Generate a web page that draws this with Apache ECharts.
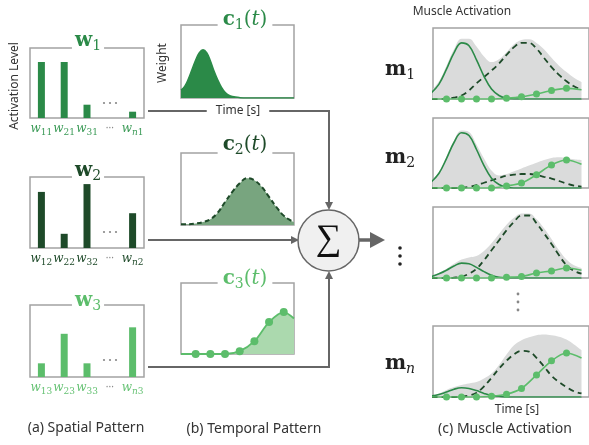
<!DOCTYPE html>
<html><head><meta charset="utf-8">
<script src="https://cdn.jsdelivr.net/npm/echarts@6/dist/echarts.min.js"></script>
<style>html,body{margin:0;padding:0;background:#fff}#c{width:589px;height:445px}</style>
</head><body><div id="c"></div>
<script>
// ---------- data ----------
// spatial patterns (bar heights, fraction of box)
const tickSub1 = ['11', '21', '31', '', 'n1'];
const tickSub2 = ['12', '22', '32', '', 'n2'];
const tickSub3 = ['13', '23', '33', '', 'n3'];
const w1 = [0.80, 0.80, 0.19, null, 0.09];
const w2 = [0.79, 0.20, 0.90, null, 0.49];
const w3 = [0.19, 0.60, 0.19, null, 0.69];

// temporal patterns
const c1X = [0, 0.25, 0.5, 0.75, 1, 1.25, 1.5, 1.75, 2, 2.25, 2.5, 2.75, 3, 3.25, 3.5, 4, 4.5, 5.5, 6.5, 7.7];
const c1Y = [0.11, 0.16, 0.26, 0.39, 0.52, 0.62, 0.66, 0.62, 0.51, 0.37, 0.25, 0.15, 0.08, 0.04, 0.02, 0.005, 0, 0, 0, 0];
const c2X = [0, 0.5, 1, 1.5, 2, 2.5, 3, 3.5, 4, 4.5, 5, 5.5, 6, 6.5, 7, 7.5, 7.7];
const c2Y = [0.01, 0.01, 0.02, 0.04, 0.08, 0.17, 0.32, 0.46, 0.58, 0.65, 0.62, 0.53, 0.39, 0.25, 0.13, 0.06, 0.04];
const c3X = [0, 1, 2, 3, 4, 5, 6, 7, 7.7];
const c3Y = [0, 0, 0, 0, 0.04, 0.18, 0.45, 0.59, 0.50];

// muscle activations
const mX = [0, 0.5, 1, 1.5, 2, 2.5, 3, 3.5, 4, 4.5, 5, 5.5, 6, 6.5, 7, 7.5, 8, 8.5, 9, 9.5, 10];
const dotX = [0, 1, 2, 3, 4, 5, 6, 7, 8, 9, 10];

const m1Gray  = [0.12, 0.25, 0.47, 0.70, 0.85, 0.85, 0.74, 0.60, 0.52, 0.56, 0.66, 0.77, 0.83, 0.84, 0.79, 0.70, 0.58, 0.47, 0.38, 0.30, 0.24];
const m1Solid = [0.09, 0.21, 0.42, 0.65, 0.79, 0.75, 0.55, 0.32, 0.14, 0.05, 0.01, 0, 0, 0, 0, 0, 0, 0, 0, 0, 0];
const m1Dash  = [0, 0, 0.005, 0.02, 0.05, 0.12, 0.22, 0.31, 0.40, 0.50, 0.62, 0.73, 0.79, 0.79, 0.71, 0.58, 0.45, 0.34, 0.25, 0.18, 0.13];
const m1Dot   = [0, 0, 0, 0, 0, 0.01, 0.03, 0.07, 0.12, 0.15, 0.13];

const m2Gray  = [0.10, 0.23, 0.45, 0.68, 0.82, 0.80, 0.62, 0.42, 0.25, 0.18, 0.20, 0.24, 0.28, 0.32, 0.36, 0.40, 0.43, 0.44, 0.43, 0.41, 0.40];
const m2Solid = [0.09, 0.21, 0.42, 0.65, 0.79, 0.75, 0.55, 0.32, 0.14, 0.05, 0.01, 0, 0, 0, 0, 0, 0, 0, 0, 0, 0];
const m2Dash  = [0, 0, 0, 0, 0.005, 0.015, 0.04, 0.075, 0.11, 0.145, 0.175, 0.19, 0.20, 0.20, 0.185, 0.16, 0.135, 0.10, 0.065, 0.035, 0.02];
const m2Dot   = [0, 0, 0, 0, 0, 0.03, 0.07, 0.19, 0.33, 0.40, 0.34];

const m3Gray  = [0.03, 0.07, 0.13, 0.20, 0.26, 0.29, 0.31, 0.38, 0.49, 0.62, 0.75, 0.85, 0.91, 0.91, 0.83, 0.70, 0.55, 0.39, 0.26, 0.18, 0.14];
const m3Solid = [0.02, 0.06, 0.11, 0.17, 0.21, 0.20, 0.15, 0.09, 0.04, 0.01, 0, 0, 0, 0, 0, 0, 0, 0, 0, 0, 0];
const m3Dash  = [0, 0, 0, 0.005, 0.02, 0.06, 0.13, 0.25, 0.39, 0.53, 0.67, 0.79, 0.88, 0.88, 0.77, 0.63, 0.48, 0.32, 0.18, 0.10, 0.06];
const m3Dot   = [0, 0, 0, 0, 0, 0.01, 0.02, 0.07, 0.10, 0.14, 0.11];

const mnGray  = [0.02, 0.05, 0.10, 0.14, 0.17, 0.19, 0.21, 0.26, 0.33, 0.45, 0.60, 0.73, 0.80, 0.84, 0.87, 0.88, 0.87, 0.85, 0.81, 0.74, 0.66];
const mnSolid = [0.015, 0.035, 0.07, 0.11, 0.13, 0.12, 0.09, 0.05, 0.02, 0.01, 0, 0, 0, 0, 0, 0, 0, 0, 0, 0, 0];
const mnDash  = [0, 0, 0, 0, 0.005, 0.02, 0.06, 0.15, 0.27, 0.40, 0.51, 0.60, 0.65, 0.64, 0.55, 0.43, 0.30, 0.21, 0.14, 0.08, 0.05];
const mnDot   = [0, 0, 0, 0, 0.01, 0.04, 0.12, 0.31, 0.51, 0.62, 0.55];

// ---------- styling ----------
const G1 = '#2b8a48', G2 = '#1e4a29', G3 = '#5cbd6b';
const G2FILL = '#78a57f', G3FILL = '#abd9ae', GRAY = '#dadbdb';
const BORDER = '#a3a3a3', LINK = '#666666';
const SANS = '"Noto Sans", "DejaVu Sans", sans-serif';
const SERIF = '"DejaVu Serif", serif';

const grids = [
  {left: 30, top: 48, width: 114, height: 70},   // w1
  {left: 30, top: 177, width: 114, height: 71},  // w2
  {left: 30, top: 305, width: 114, height: 72},  // w3
  {left: 181, top: 25, width: 113, height: 73},  // c1
  {left: 181, top: 153, width: 113, height: 72}, // c2
  {left: 181, top: 283, width: 113, height: 71}, // c3
  {left: 433, top: 28, width: 164, height: 71},  // m1
  {left: 433, top: 118, width: 164, height: 70}, // m2
  {left: 433, top: 207, width: 164, height: 71}, // m3
  {left: 433, top: 326, width: 164, height: 71}  // mn
].map(g => Object.assign({show: true, borderColor: BORDER, borderWidth: 1.5, backgroundColor: 'transparent'}, g));

function pairs(xs, ys) { return xs.map((x, i) => [x, ys[i]]); }
function hideAxis(extra) {
  return Object.assign({axisLine: {show: false}, axisTick: {show: false}, axisLabel: {show: false}, splitLine: {show: false}}, extra);
}

const subsList = [tickSub1, tickSub2, tickSub3];
const labColors = ['#3a9a56', G2, '#66c274'];
const xAxes = [], yAxes = [];
for (let i = 0; i < 3; i++) {
  const subs = subsList[i], col = labColors[i];
  xAxes.push({
    type: 'category', gridIndex: i, data: subs.map((s, k) => k),
    axisLine: {show: false}, axisTick: {show: false}, splitLine: {show: false},
    axisLabel: {
      show: true, interval: 0, margin: 5,
      formatter: (v, k) => {
        const s = subs[k];
        if (!s) return '{d|···}';
        if (s[0] === 'n') return '{w|w}{n|n}{s|' + s.slice(1) + '}';
        return '{w|w}{s|' + s + '}';
      },
      rich: {
        w: {fontFamily: SERIF, fontStyle: 'italic', fontSize: 12, color: col, verticalAlign: 'top', lineHeight: 14},
        s: {fontFamily: SERIF, fontSize: 9, color: col, verticalAlign: 'bottom', lineHeight: 10, padding: [7, 0, 0, 0]},
        n: {fontFamily: SERIF, fontStyle: 'italic', fontSize: 9, color: col, verticalAlign: 'bottom', lineHeight: 10, padding: [7, 0, 0, 0]},
        d: {fontFamily: SANS, fontSize: 10, color: '#888', verticalAlign: 'top', lineHeight: 14}
      }
    }
  });
  yAxes.push(hideAxis({type: 'value', gridIndex: i, min: 0, max: 1}));
}
for (let i = 3; i < 6; i++) {
  xAxes.push(hideAxis({type: 'value', gridIndex: i, min: 0, max: 7.7}));
  yAxes.push(hideAxis({type: 'value', gridIndex: i, min: 0, max: 1}));
}
for (let i = 6; i < 10; i++) {
  xAxes.push(hideAxis({type: 'value', gridIndex: i, min: 0.1, max: 10.5}));
  yAxes.push(hideAxis({type: 'value', gridIndex: i, min: 0, max: 1}));
}

const series = [];
[w1, w2, w3].forEach((d, i) => {
  series.push({type: 'bar', xAxisIndex: i, yAxisIndex: i, data: d, barWidth: 7,
    itemStyle: {color: [G1, G2, G3][i]}, silent: true});
});
series.push({type: 'line', xAxisIndex: 3, yAxisIndex: 3, data: pairs(c1X, c1Y), smooth: 0.4, symbol: 'none',
  lineStyle: {color: G1, width: 1.5}, areaStyle: {color: G1, opacity: 1}});
series.push({type: 'line', xAxisIndex: 4, yAxisIndex: 4, data: pairs(c2X, c2Y), smooth: 0.4, symbol: 'none',
  lineStyle: {color: G2, width: 2, type: [5, 3]}, areaStyle: {color: G2FILL, opacity: 1}});
series.push({type: 'line', xAxisIndex: 5, yAxisIndex: 5,
  data: pairs(c3X, c3Y).map((p, k, a) => (k === 0 || k === a.length - 1) ? {value: p, symbol: 'none'} : p),
  smooth: 0.3, symbol: 'circle', symbolSize: 8, itemStyle: {color: G3},
  lineStyle: {color: G3, width: 1.8}, areaStyle: {color: G3FILL, opacity: 1}});

const mSets = [[m1Gray, m1Solid, m1Dash, m1Dot], [m2Gray, m2Solid, m2Dash, m2Dot],
               [m3Gray, m3Solid, m3Dash, m3Dot], [mnGray, mnSolid, mnDash, mnDot]];
mSets.forEach((set, j) => {
  const ax = 6 + j;
  series.push({type: 'line', xAxisIndex: ax, yAxisIndex: ax, data: pairs(mX, set[0]), smooth: 0.4, symbol: 'none',
    lineStyle: {width: 0, opacity: 0}, areaStyle: {color: GRAY, opacity: 1}});
  series.push({type: 'line', xAxisIndex: ax, yAxisIndex: ax, data: pairs(mX, set[2]), smooth: 0.4, symbol: 'none',
    lineStyle: {color: G2, width: 1.8, type: [6, 4]}});
  series.push({type: 'line', xAxisIndex: ax, yAxisIndex: ax, data: pairs(mX, set[1]), smooth: 0.4, symbol: 'none',
    lineStyle: {color: G1, width: 1.6}});
  series.push({type: 'line', xAxisIndex: ax, yAxisIndex: ax,
    data: pairs(dotX, set[3]).map((p, k, a) => (k === 0 || k === a.length - 1) ? {value: p, symbol: 'none'} : p),
    smooth: 0.3, symbol: 'circle', symbolSize: 7, itemStyle: {color: G3}, lineStyle: {color: G3, width: 1.6}});
});

// ---------- annotations ----------
const titleRich = (col) => ({
  b: {font: 'bold 20px ' + SERIF, fill: col, verticalAlign: 'top', lineHeight: 22},
  s: {font: '14px ' + SERIF, fill: col, verticalAlign: 'bottom', lineHeight: 14, padding: [10, 0, 0, 0]},
  si: {font: 'italic 14px ' + SERIF, fill: col, verticalAlign: 'bottom', lineHeight: 14, padding: [10, 0, 0, 0]},
  p: {font: '20px ' + SERIF, fill: col, verticalAlign: 'top', lineHeight: 22},
  t: {font: 'italic 20px ' + SERIF, fill: col, verticalAlign: 'top', lineHeight: 22}
});
function title(x, y, text, col, bg, pad) {
  const st = {text: text, rich: titleRich(col), fill: col, textAlign: 'center', textVerticalAlign: 'middle'};
  if (bg) { st.backgroundColor = '#fff'; st.padding = pad; }
  return {type: 'text', x: x, y: y, z: 100, style: st};
}
function label(x, y, text, size, rot, bg, pad) {
  const st = {text: text, font: size + 'px ' + SANS, fill: '#333', textAlign: 'center', textVerticalAlign: 'middle'};
  if (bg) { st.backgroundColor = '#fff'; st.padding = pad; }
  return {type: 'text', x: x, y: y, rotation: rot || 0, z: 100, style: st};
}
function dot(x, y, r, c) { return {type: 'circle', z: 90, shape: {cx: x, cy: y, r: r}, style: {fill: c}}; }
const lk = {stroke: LINK, lineWidth: 2, fill: null};

const graphic = [
  title(88, 42, '{b|w}{s|1}', G1, true, [0, 3]),
  title(88, 172, '{b|w}{s|2}', G2, true, [0, 3]),
  title(88, 302, '{b|w}{s|3}', G3, true, [0, 3]),
  title(245, 21, '{b|c}{s|1}{p|(}{t|t}{p|)}', G1, true, [0, 5]),
  title(245, 146, '{b|c}{s|2}{p|(}{t|t}{p|)}', G2, true, [0, 5]),
  title(245, 280, '{b|c}{s|3}{p|(}{t|t}{p|)}', G3, true, [0, 5]),
  title(400, 71, '{b|m}{s|1}', '#222', false),
  title(400, 159, '{b|m}{s|2}', '#222', false),
  title(400, 365, '{b|m}{si|n}', '#222', false),
  // connectors
  {type: 'polyline', z: 80, shape: {points: [[148, 111], [329, 111], [329, 203]]}, style: lk},
  {type: 'polygon', z: 80, shape: {points: [[325, 202], [333, 202], [329, 210]]}, style: {fill: LINK}},
  {type: 'polyline', z: 80, shape: {points: [[148, 240], [292, 240]]}, style: lk},
  {type: 'polygon', z: 80, shape: {points: [[291, 236], [291, 244], [299, 240]]}, style: {fill: LINK}},
  {type: 'polyline', z: 80, shape: {points: [[148, 367], [329, 367], [329, 278]]}, style: lk},
  {type: 'polygon', z: 80, shape: {points: [[325, 279], [333, 279], [329, 271]]}, style: {fill: LINK}},
  {type: 'circle', z: 85, shape: {cx: 328.5, cy: 240.5, r: 30.5}, style: {fill: '#f0f0f0', stroke: LINK, lineWidth: 1.5}},
  {type: 'text', z: 86, x: 328.5, y: 240, style: {text: '∑', font: '36px "Liberation Serif", serif', fill: '#111', textAlign: 'center', textVerticalAlign: 'middle'}},
  {type: 'polyline', z: 80, shape: {points: [[359, 240], [372, 240]]}, style: {stroke: LINK, lineWidth: 3.5, fill: null}},
  {type: 'polygon', z: 80, shape: {points: [[370, 232], [385, 240], [370, 248]]}, style: {fill: LINK}},
  // texts
  label(238, 111, 'Time [s]', 12, 0, true, [0, 9]),
  label(15, 86, 'Activation Level', 12, Math.PI / 2),
  label(163, 63, 'Weight', 12, Math.PI / 2),
  label(462, 12, 'Muscle Activation', 12),
  label(517, 410, 'Time [s]', 12),
  label(86, 428, '(a) Spatial Pattern', 14),
  label(254, 429, '(b) Temporal Pattern', 14),
  label(505, 429, '(c) Muscle Activation', 14),
  // ellipses
  dot(400, 248, 1.8, '#222'), dot(400, 256, 1.8, '#222'), dot(400, 264, 1.8, '#222'),
  dot(518, 294, 1.4, '#888'), dot(518, 302, 1.4, '#888'), dot(518, 310, 1.4, '#888'),
  dot(104, 103, 1.1, '#888'), dot(110, 103, 1.1, '#888'), dot(116, 103, 1.1, '#888'),
  dot(104, 232, 1.1, '#888'), dot(110, 232, 1.1, '#888'), dot(116, 232, 1.1, '#888'),
  dot(104, 360, 1.1, '#888'), dot(110, 360, 1.1, '#888'), dot(116, 360, 1.1, '#888')
];

const chart = echarts.init(document.getElementById('c'), null, {renderer: 'canvas'});
chart.setOption({
  animation: false,
  backgroundColor: '#fff',
  grid: grids, xAxis: xAxes, yAxis: yAxes, series: series, graphic: graphic
});
</script></body></html>
